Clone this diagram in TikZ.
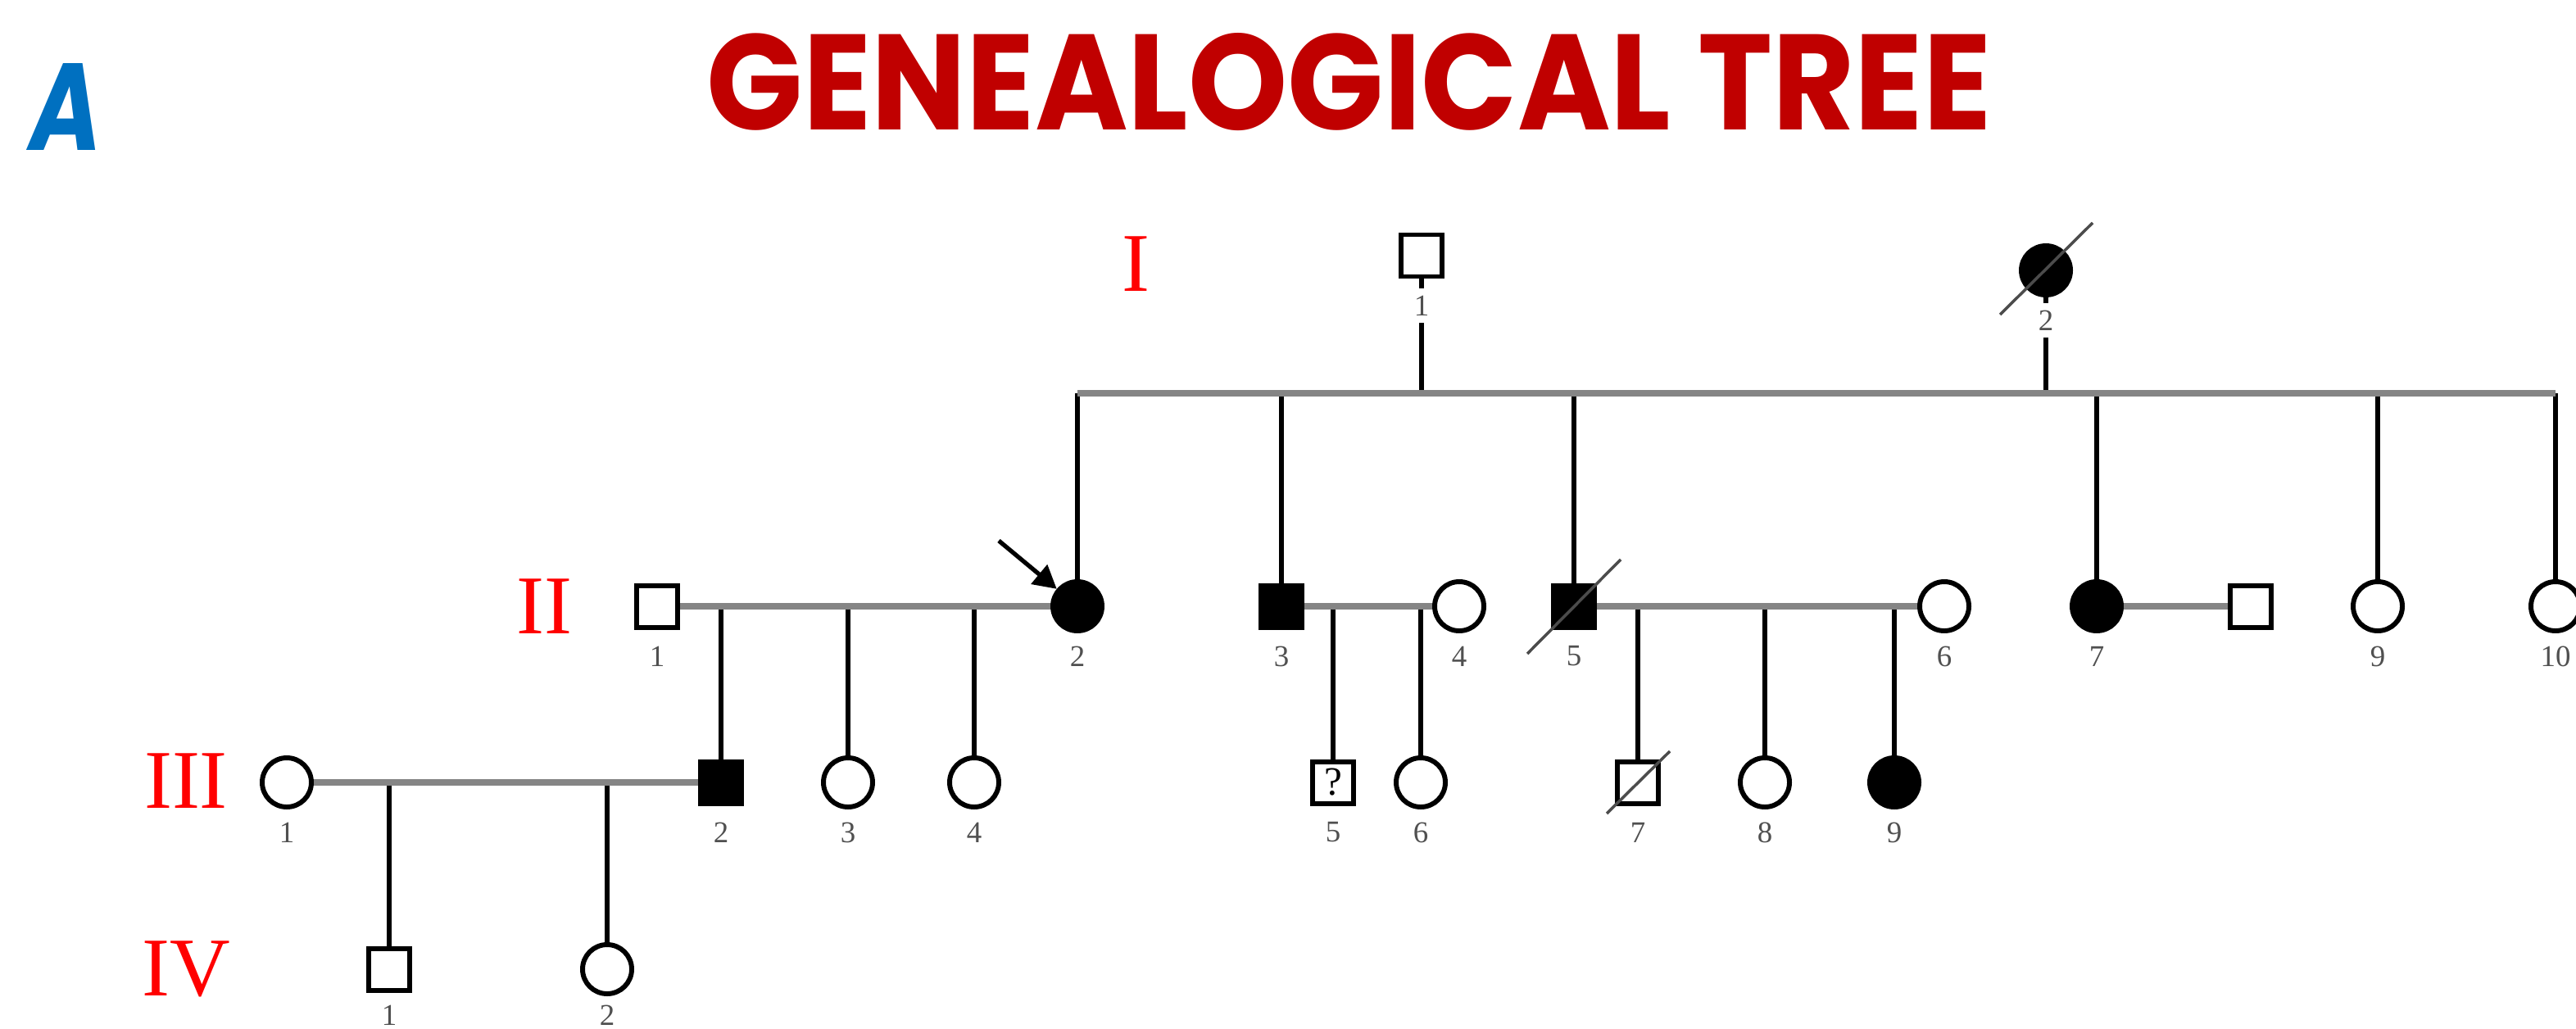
\documentclass[tikz,border=0pt]{standalone}
\usepackage{fontspec}
\setmainfont{Liberation Serif}
\newfontfamily\titlefont{Poppins}
\usetikzlibrary{shapes.geometric,arrows.meta}
\definecolor{titlered}{HTML}{C00000}
\definecolor{letterblue}{HTML}{0070C0}
\definecolor{bondgray}{HTML}{858585}
\definecolor{numgray}{HTML}{505050}

\tikzset{
  person/.style={draw=black, line width=1.7pt, inner sep=0pt, fill=white},
  male/.style={person, rectangle, minimum width=0.50cm, minimum height=0.51cm},
  female/.style={person, circle, minimum size=0.60cm},
  affected/.style={fill=black},
  bond/.style={draw=bondgray, line width=2.3pt},
  descent/.style={draw=black, line width=1.5pt},
  idlabel/.style={font=\fontsize{10.5}{12}\selectfont, text=numgray, fill=white, inner sep=2.5pt},
  genlabel/.style={font=\fontsize{29}{30}\selectfont, text=red, inner sep=0pt},
  deathmark/.style={draw=black!70, line width=1pt},
  proband/.style={draw=black, line width=1.5pt, -{Triangle[length=0.28cm,width=0.3cm]}},
}

\begin{document}
\begin{tikzpicture}
\useasboundingbox (0,0) rectangle (31.44,-12.55);

% heading and panel letter
\node[anchor=north west, inner sep=0pt, text=titlered] (title) at (8.62,-0.40)
  {\resizebox{15.68cm}{1.18cm}{\titlefont\bfseries GENEALOGICAL TREE}};
\node[anchor=north west, inner sep=0pt, text=letterblue] (panel) at (0.36,-0.77)
  {\resizebox{0.88cm}{1.06cm}{\titlefont\bfseries\itshape A}};

% generation numerals
\node[genlabel] (genI)   at (13.86,-3.22) {I};
\node[genlabel] (genII)  at (6.64,-7.40)  {II};
\node[genlabel] (genIII) at (2.27,-9.53)  {III};
\node[genlabel] (genIV)  at (2.27,-11.83) {IV};

% generation I
\node[male]            (I1) at (17.35,-3.12) {};
\node[female,affected] (I2) at (24.97,-3.30) {};

% generation II
\node[male]            (II1)  at (8.02,-7.40)  {};
\node[female,affected] (II2)  at (13.15,-7.40) {};
\node[male,affected]   (II3)  at (15.64,-7.40) {};
\node[female]          (II4)  at (17.81,-7.40) {};
\node[male,affected]   (II5)  at (19.21,-7.40) {};
\node[female]          (II6)  at (23.73,-7.40) {};
\node[female,affected] (II7)  at (25.59,-7.40) {};
\node[male]            (II8)  at (27.47,-7.40) {};
\node[female]          (II9)  at (29.02,-7.40) {};
\node[female]          (II10) at (31.19,-7.40) {};

% generation III
\node[female]          (III1) at (3.50,-9.55)  {};
\node[male,affected]   (III2) at (8.80,-9.55)  {};
\node[female]          (III3) at (10.35,-9.55) {};
\node[female]          (III4) at (11.89,-9.55) {};
\node[male, font=\fontsize{14}{14}\selectfont] (III5) at (16.27,-9.55) {?};
\node[female]          (III6) at (17.34,-9.55) {};
\node[male]            (III7) at (19.99,-9.55) {};
\node[female]          (III8) at (21.54,-9.55) {};
\node[female,affected] (III9) at (23.12,-9.55) {};

% generation IV
\node[male]   (IV1) at (4.75,-11.83) {};
\node[female] (IV2) at (7.41,-11.83) {};

% sibship line of generation II
\coordinate (sibI) at (0,-4.80);
\draw[descent] (I1.south) -- (I1.south |- sibI);
\draw[descent] (I2.south) -- (I2.south |- sibI);
\foreach \c in {II2,II3,II5,II7,II9,II10}
  \draw[descent] (\c |- sibI) -- (\c.north);

% lines of descent from the couples
\foreach \c in {III2,III3,III4}
  \draw[descent] (\c |- II1) -- (\c.north);
\foreach \c in {III5,III6}
  \draw[descent] (\c |- II3) -- (\c.north);
\foreach \c in {III7,III8,III9}
  \draw[descent] (\c |- II5) -- (\c.north);
\foreach \c in {IV1,IV2}
  \draw[descent] (\c |- III1) -- (\c.north);

% sibship and mating lines
\draw[bond] (II2 |- sibI) -- (II10 |- sibI);
\draw[bond] (II1.east) -- (II2.west);
\draw[bond] (II3.east) -- (II4.west);
\draw[bond] (II5.east) -- (II6.west);
\draw[bond] (II7.east) -- (II8.west);
\draw[bond] (III1.east) -- (III2.west);

% deceased marks
\draw[deathmark] ([shift={(-0.56,-0.54)}]I2.center) -- ([shift={(0.57,0.58)}]I2.center);
\draw[deathmark] ([shift={(-0.57,-0.58)}]II5.center) -- ([shift={(0.57,0.57)}]II5.center);
\draw[deathmark] ([shift={(-0.38,-0.38)}]III7.center) -- ([shift={(0.39,0.38)}]III7.center);

% proband arrow
\coordinate (probandtail) at (12.19,-6.60);
\draw[proband] (probandtail) -- (II2.140);

% individual numbers
\foreach \p/\t in {I1/1, I2/2,
  II1/1, II2/2, II3/3, II4/4, II5/5, II6/6, II7/7, II9/9, II10/10,
  III1/1, III2/2, III3/3, III4/4, III5/5, III6/6, III7/7, III8/8, III9/9}
  \node[idlabel] (\p-no) at ([yshift=-0.61cm]\p.center) {\t};
\foreach \p/\t in {IV1/1, IV2/2}
  \node[idlabel, inner sep=1pt] (\p-no) at ([yshift=-0.56cm]\p.center) {\t};
\end{tikzpicture}
\end{document}
